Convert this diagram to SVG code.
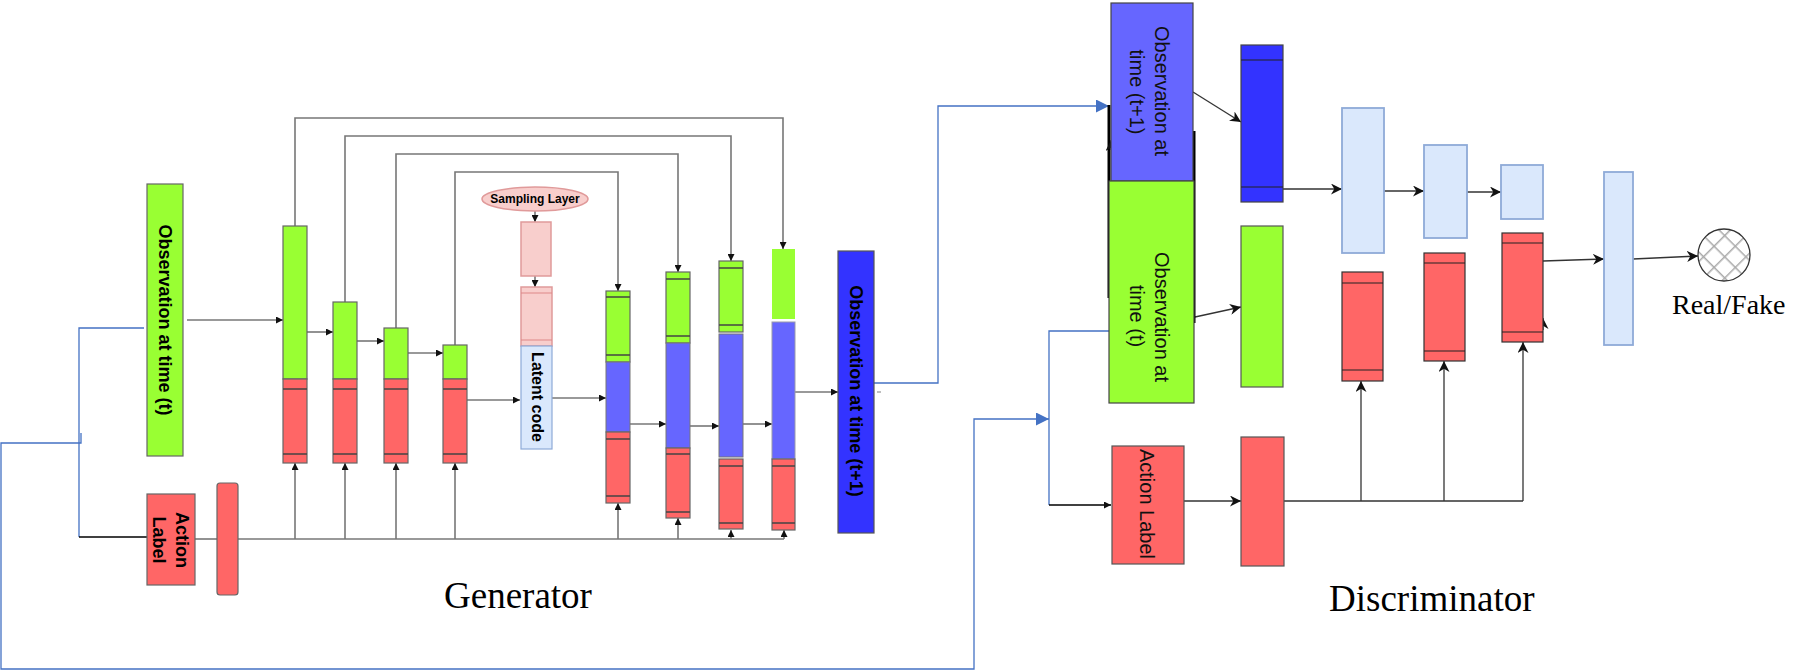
<svg xmlns="http://www.w3.org/2000/svg" width="1808" height="670" viewBox="0 0 1808 670">
<defs>
<style>
.g{fill:#99ff33;stroke:#666;stroke-width:1.2}
.r{fill:#ff6666;stroke:#666;stroke-width:1.2}
.p{fill:#6666ff;stroke:#777;stroke-width:1}
.db{fill:#3333ff;stroke:#555;stroke-width:1.2}
.pk{fill:#f8cecc;stroke:#e09a9a;stroke-width:1.5}
.lb{fill:#dae8fc;stroke:#8eaad8;stroke-width:1.8}
.dr{fill:#ff6666;stroke:#333;stroke-width:1.2}
.ln{stroke:#444;stroke-width:1.3;fill:none}
.dln{stroke:#222;stroke-width:1.2;fill:none}
.gc{stroke:#777;stroke-width:1.6;fill:none}
.dc{stroke:#333;stroke-width:1.3;fill:none}
.bc{stroke:#4472c4;stroke-width:1.3;fill:none}
.bk{stroke:#000;stroke-width:1.3;fill:none}
.bt{font-family:"Liberation Sans",Arial,sans-serif;font-weight:bold;fill:#000}
.rt{font-family:"Liberation Sans",Arial,sans-serif;fill:#111}
.tt{font-family:"Liberation Serif","Times New Roman",serif;fill:#000}
</style>
<marker id="ga" viewBox="0 0 8 8" refX="8" refY="4" markerWidth="7" markerHeight="7" markerUnits="userSpaceOnUse" orient="auto"><path d="M0,0 L8,4 L0,8 z" fill="#111"/></marker>
<marker id="da" viewBox="0 0 10 10" refX="10" refY="5" markerWidth="11" markerHeight="11" markerUnits="userSpaceOnUse" orient="auto"><path d="M0,0 L10,5 L0,10 L3,5 z" fill="#111"/></marker>
<marker id="ba" viewBox="0 0 12 12" refX="12" refY="6" markerWidth="13" markerHeight="13" markerUnits="userSpaceOnUse" orient="auto"><path d="M0,0 L12,6 L0,12 z" fill="#4472c4"/></marker>
<pattern id="hatch" patternUnits="userSpaceOnUse" width="15" height="15" patternTransform="rotate(45 1724 255)">
<rect width="15" height="15" fill="#fff"/>
<path d="M0,0 H15 M0,0 V15" stroke="#aaa" stroke-width="3"/>
</pattern>
</defs>

<g id="connectors">
<!-- generator skip connections -->
<path class="gc" d="M295,226 V118 H783 V249" marker-end="url(#ga)"/>
<path class="gc" d="M345,302 V136 H731 V261" marker-end="url(#ga)"/>
<path class="gc" d="M396,328 V154 H678 V272" marker-end="url(#ga)"/>
<path class="gc" d="M455,345 V172 H618 V291" marker-end="url(#ga)"/>
<!-- generator forward -->
<path class="gc" d="M187,320 H283" marker-end="url(#ga)"/>
<path class="gc" d="M307,332 H333" marker-end="url(#ga)"/>
<path class="gc" d="M357,341 H384" marker-end="url(#ga)"/>
<path class="gc" d="M408,353 H443" marker-end="url(#ga)"/>
<path class="gc" d="M467,400 H520" marker-end="url(#ga)"/>
<path class="gc" d="M535,211 V222" marker-end="url(#ga)"/>
<path class="gc" d="M535,276 V287" marker-end="url(#ga)"/>
<path class="gc" d="M552,398 H606" marker-end="url(#ga)"/>
<path class="gc" d="M630,424 H666" marker-end="url(#ga)"/>
<path class="gc" d="M690,426 H719" marker-end="url(#ga)"/>
<path class="gc" d="M743,424 H772" marker-end="url(#ga)"/>
<path class="gc" d="M795,392 H838" marker-end="url(#ga)"/>
<!-- action bus -->
<path class="gc" d="M195,539 H217"/>
<path class="gc" d="M238,539 H784"/>
<path class="gc" d="M295,539 V463" marker-end="url(#ga)"/>
<path class="gc" d="M345,539 V463" marker-end="url(#ga)"/>
<path class="gc" d="M396,539 V463" marker-end="url(#ga)"/>
<path class="gc" d="M455,539 V463" marker-end="url(#ga)"/>
<path class="gc" d="M618,539 V503" marker-end="url(#ga)"/>
<path class="gc" d="M678,539 V518" marker-end="url(#ga)"/>
<path class="gc" d="M731,539 V530" marker-end="url(#ga)"/>
<path class="gc" d="M784,539 V530" marker-end="url(#ga)"/>
<path d="M877,392 H881" stroke="#aaa" stroke-width="1.5"/>
<!-- blue links -->
<path class="bc" d="M144,328 H79 V537"/>
<path class="bk" d="M79,537 H147"/>
<path class="bc" d="M81,433 V443 H1 V669 H974 V419 H1049" marker-end="url(#ba)"/>
<path class="bc" d="M868,383 H938 V106 H1109" marker-end="url(#ba)"/>
<path class="bc" d="M1113,331 H1049 V505"/>
<path class="bk" d="M1049,505 H1111" marker-end="url(#ga)"/>
<!-- discriminator -->
<path class="dc" d="M1193,92 L1241,122" marker-end="url(#da)"/>
<path class="dc" d="M1195,317 L1241,307" marker-end="url(#da)"/>
<path class="dc" d="M1184,501 H1241" marker-end="url(#da)"/>
<path class="dc" d="M1283,189 H1342" marker-end="url(#da)"/>
<path class="dc" d="M1384,191 H1424" marker-end="url(#da)"/>
<path class="dc" d="M1467,192 H1501" marker-end="url(#da)"/>
<path class="dc" d="M1543,261 L1604,259" marker-end="url(#da)"/>
<path class="dc" d="M1633,259 L1698,256" marker-end="url(#da)"/>
<path class="dc" d="M1282,494 V501 H1523"/>
<path class="dc" d="M1361,501 V381" marker-end="url(#da)"/>
<path class="dc" d="M1444,501 V361" marker-end="url(#da)"/>
<path class="dc" d="M1523,501 V342" marker-end="url(#da)"/>
<path class="dc" d="M1543,330 V318" marker-end="url(#da)"/>
<path d="M1109,105 V298" stroke="#000" stroke-width="3"/>
<path d="M1194,131 V323" stroke="#000" stroke-width="3"/>
<path class="dc" d="M1111,150 V140" marker-end="url(#da)"/>
</g>

<g id="gen-obs-t">
<rect class="g" x="147" y="184" width="36" height="272"/>
<text class="bt" font-size="18" text-anchor="middle" dominant-baseline="central" transform="translate(165,320) rotate(90)">Observation at time (t)</text>
</g>

<g id="gen-action-label">
<rect class="r" x="147" y="494" width="48" height="91"/>
<text class="bt" font-size="18" text-anchor="middle" dominant-baseline="central" transform="translate(182,540) rotate(90)">Action</text>
<text class="bt" font-size="18" text-anchor="middle" dominant-baseline="central" transform="translate(159,540) rotate(90)">Label</text>
</g>

<g id="gen-action-embed">
<rect class="r" x="217" y="483" width="21" height="112" rx="3"/>
</g>

<g id="enc1">
<rect class="g" x="283" y="226" width="24" height="153"/>
<rect class="r" x="283" y="379" width="24" height="84"/>
<path class="ln" d="M283,389 H307 M283,454 H307"/>
</g>
<g id="enc2">
<rect class="g" x="333" y="302" width="24" height="77"/>
<rect class="r" x="333" y="379" width="24" height="84"/>
<path class="ln" d="M333,389 H357 M333,454 H357"/>
</g>
<g id="enc3">
<rect class="g" x="384" y="328" width="24" height="51"/>
<rect class="r" x="384" y="379" width="24" height="84"/>
<path class="ln" d="M384,389 H408 M384,454 H408"/>
</g>
<g id="enc4">
<rect class="g" x="443" y="345" width="24" height="34"/>
<rect class="r" x="443" y="379" width="24" height="84"/>
<path class="ln" d="M443,389 H467 M443,454 H467"/>
</g>

<g id="sampling-layer">
<ellipse class="pk" cx="535" cy="199" rx="53" ry="12"/>
<text class="bt" font-size="12" text-anchor="middle" dominant-baseline="central" x="535" y="199">Sampling Layer</text>
</g>
<g id="pink1">
<rect class="pk" x="521" y="222" width="30" height="54"/>
</g>
<g id="pink2">
<rect class="pk" x="521" y="287" width="31" height="59"/>
<path d="M521,293 H552 M521,340 H552" stroke="#d88" stroke-width="1.2"/>
</g>
<g id="latent-code">
<rect class="lb" x="521" y="346" width="31" height="103" style="stroke-width:1.2"/>
<text class="bt" font-size="16" text-anchor="middle" dominant-baseline="central" transform="translate(537,397) rotate(90)">Latent code</text>
</g>

<g id="dec1">
<rect class="g" x="606" y="291" width="24" height="71"/>
<rect class="p" x="606" y="362" width="24" height="70"/>
<rect class="r" x="606" y="432" width="24" height="71"/>
<path class="ln" d="M606,297 H630 M606,355 H630 M606,439 H630 M606,496 H630"/>
</g>
<g id="dec2">
<rect class="g" x="666" y="272" width="24" height="71"/>
<rect class="p" x="666" y="343" width="24" height="105"/>
<rect class="r" x="666" y="448" width="24" height="70"/>
<path class="ln" d="M666,279 H690 M666,336 H690 M666,454 H690 M666,512 H690"/>
</g>
<g id="dec3">
<rect class="g" x="719" y="261" width="24" height="71"/>
<rect class="p" x="719" y="334" width="24" height="123"/>
<rect class="r" x="719" y="459" width="24" height="70"/>
<path class="ln" d="M719,268 H743 M719,325 H743 M719,466 H743 M719,523 H743"/>
</g>
<g id="dec4">
<rect x="772" y="249" width="23" height="70" fill="#99ff33"/>
<rect x="772" y="322" width="23" height="137" fill="#6666ff" stroke="#99a" stroke-width="1"/>
<rect class="r" x="772" y="459" width="23" height="71"/>
<path class="ln" d="M772,466 H795 M772,523 H795"/>
</g>

<g id="gen-obs-t1">
<rect class="db" x="838" y="251" width="36" height="282"/>
<text class="bt" font-size="18" text-anchor="middle" dominant-baseline="central" transform="translate(856,391) rotate(90)">Observation at time (t+1)</text>
</g>

<g id="generator-label">
<text class="tt" font-size="37" x="444" y="608">Generator</text>
</g>

<g id="disc-obs-t1">
<rect x="1111" y="3" width="82" height="178" fill="#6666ff" stroke="#444" stroke-width="1.2"/>
<text class="rt" font-size="20" text-anchor="middle" dominant-baseline="central" transform="translate(1162,91) rotate(90)">Observation at</text>
<text class="rt" font-size="20" text-anchor="middle" dominant-baseline="central" transform="translate(1137,92) rotate(90)">time (t+1)</text>
</g>
<g id="disc-obs-t">
<rect x="1109" y="181" width="85" height="222" fill="#99ff33" stroke="#444" stroke-width="1.2"/>
<text class="rt" font-size="20" text-anchor="middle" dominant-baseline="central" transform="translate(1162,317) rotate(90)">Observation at</text>
<text class="rt" font-size="20" text-anchor="middle" dominant-baseline="central" transform="translate(1137,316) rotate(90)">time (t)</text>
</g>
<g id="disc-action-label">
<rect class="dr" x="1112" y="446" width="72" height="118" style="stroke:#555"/>
<text class="rt" font-size="20" text-anchor="middle" dominant-baseline="central" transform="translate(1147,504) rotate(90)">Action Label</text>
</g>

<g id="disc-obs-t1-enc">
<rect x="1241" y="45" width="42" height="157" fill="#3333ff" stroke="#444" stroke-width="1.2"/>
<path class="dln" d="M1241,60 H1283 M1241,187 H1283"/>
</g>
<g id="disc-obs-t-enc">
<rect x="1241" y="226" width="42" height="161" fill="#99ff33" stroke="#555" stroke-width="1.2"/>
</g>
<g id="disc-action-enc">
<rect class="dr" x="1241" y="437" width="43" height="129" style="stroke:#555"/>
</g>

<g id="disc-fc1"><rect class="lb" x="1342" y="108" width="42" height="145"/></g>
<g id="disc-fc2"><rect class="lb" x="1424" y="145" width="43" height="93"/></g>
<g id="disc-fc3"><rect class="lb" x="1501" y="165" width="42" height="54"/></g>
<g id="disc-fc4"><rect class="lb" x="1604" y="172" width="29" height="173"/></g>

<g id="disc-red1">
<rect class="dr" x="1342" y="272" width="41" height="109"/>
<path class="dln" d="M1342,283 H1383 M1342,370 H1383"/>
</g>
<g id="disc-red2">
<rect class="dr" x="1424" y="253" width="41" height="108"/>
<path class="dln" d="M1424,263 H1465 M1424,351 H1465"/>
</g>
<g id="disc-red3">
<rect class="dr" x="1502" y="233" width="41" height="109"/>
<path class="dln" d="M1502,243 H1543 M1502,332 H1543"/>
</g>

<g id="real-fake">
<circle cx="1724" cy="255" r="26" fill="url(#hatch)" stroke="#333" stroke-width="1.3"/>
<text class="tt" font-size="28" x="1672" y="314">Real/Fake</text>
</g>

<g id="discriminator-label">
<text class="tt" font-size="37" x="1329" y="611">Discriminator</text>
</g>
</svg>
